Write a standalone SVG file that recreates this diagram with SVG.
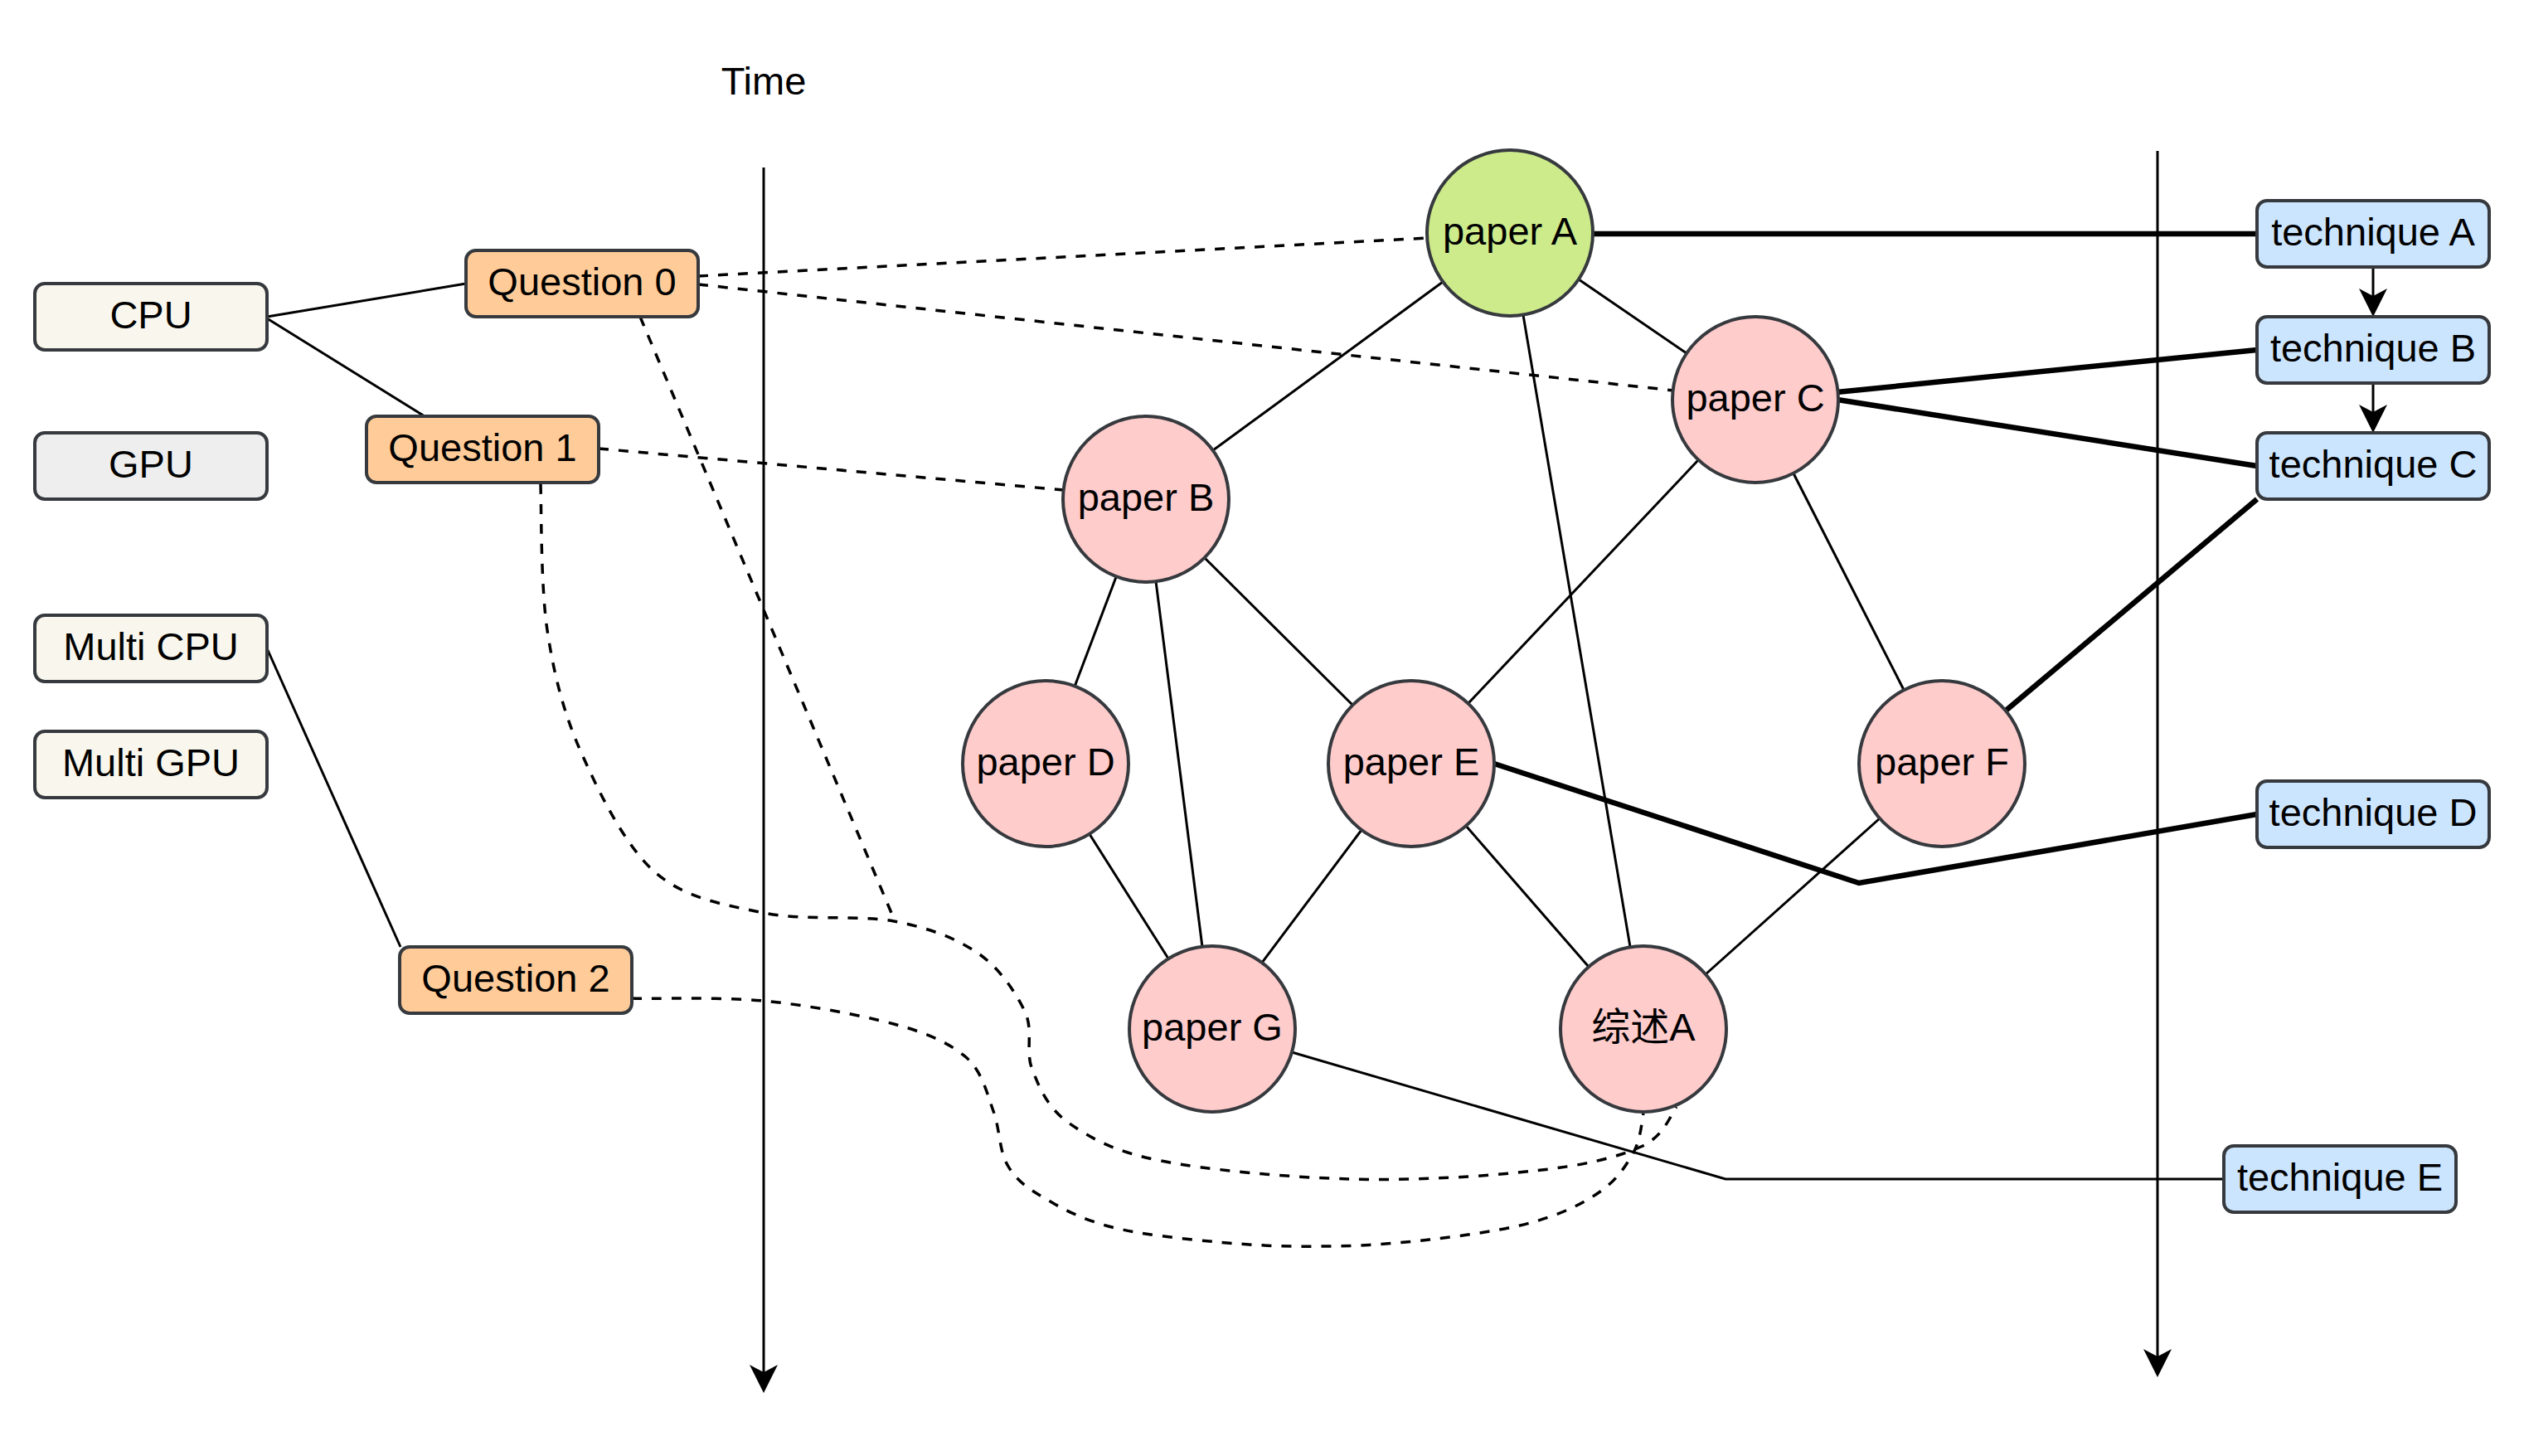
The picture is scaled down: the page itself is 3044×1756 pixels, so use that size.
<svg xmlns="http://www.w3.org/2000/svg" width="3044" height="1756" viewBox="0 0 3044 1756">
<style>
  text { font-family: "Liberation Sans", Arial, "Noto Sans CJK SC", sans-serif; font-size: 47px; fill: #000; text-anchor: middle; }
  .box { stroke: #36393d; stroke-width: 4; }
  .hw { fill: #f9f7ed; }
  .gpu { fill: #eeeeee; }
  .q { fill: #ffcc99; }
  .tech { fill: #cce5ff; }
  .paper { fill: #ffcccc; stroke: #36393d; stroke-width: 4; }
  .paperA { fill: #cdeb8b; stroke: #36393d; stroke-width: 4; }
  .thin { fill: none; stroke: #000; stroke-width: 3; }
  .thick { fill: none; stroke: #000; stroke-width: 6.5; stroke-linejoin: miter; }
  .dash { fill: none; stroke: #000; stroke-width: 3.5; stroke-dasharray: 12 12; }
  .axis { fill: none; stroke: #000; stroke-width: 3; marker-end: url(#arrow); }
</style>
<defs>
  <marker id="arrow" markerUnits="userSpaceOnUse" markerWidth="34" markerHeight="34" viewBox="0 0 34 34" refX="26" refY="17" orient="auto">
    <path d="M34,17 L0,0 L9,17 L0,34 Z" fill="#000"/>
  </marker>
</defs>
<rect width="3044" height="1756" fill="#fff"/>

<g id="connectors">
  <!-- time axes -->
  <path class="axis" d="M921,202 L921,1672"/>
  <path class="axis" d="M2602,182 L2602,1653"/>
  <!-- hardware to questions -->
  <path class="thin" d="M322,382 L562,342"/>
  <path class="thin" d="M322,384 L512,502"/>
  <path class="thin" d="M322,782 L483,1142"/>
  <!-- questions to papers (dashed) -->
  <path class="dash" d="M842,333 L1722,287"/>
  <path class="dash" d="M842,343 L2019,471"/>
  <path class="dash" d="M722,541 L1283,591"/>
  <path class="dash" d="M772,382 L1078,1108"/>
  <path class="dash" d="M652,584 C653,613 652,706 660,760 C668,814 680,861 702,910 C724,959 754,1020 790,1052 C827,1084 873,1091 921,1101 C969,1111 1035,1103 1078,1111 C1121,1119 1154,1132 1180,1150 C1206,1168 1225,1197 1236,1220 C1247,1243 1236,1268 1245,1290 C1254,1313 1264,1337 1290,1355 C1316,1373 1344,1389 1400,1400 C1456,1411 1553,1420 1628,1422 C1703,1424 1792,1419 1850,1412 C1909,1406 1950,1396 1979,1383 C2008,1370 2015,1343 2022,1335"/>
  <path class="dash" d="M762,1204 C788,1205 867,1202 920,1207 C973,1212 1037,1224 1078,1235 C1119,1246 1145,1258 1165,1275 C1185,1293 1190,1318 1198,1340 C1206,1362 1205,1388 1215,1405 C1225,1423 1239,1433 1260,1445 C1281,1458 1306,1471 1341,1480 C1376,1489 1427,1494 1469,1498 C1512,1502 1554,1504 1596,1503 C1639,1503 1681,1500 1724,1495 C1767,1490 1818,1483 1852,1473 C1886,1463 1910,1451 1930,1437 C1950,1423 1961,1406 1970,1390 C1979,1374 1980,1351 1982,1343"/>
  <!-- paper links -->
  <path class="thin" d="M1740,340 L1463,543"/>
  <path class="thin" d="M1904,337 L2034,426"/>
  <path class="thin" d="M1837,380 L1966,1142"/>
  <path class="thin" d="M1346,696 L1296,828"/>
  <path class="thin" d="M1394,701 L1450,1142"/>
  <path class="thin" d="M1453,673 L1631,850"/>
  <path class="thin" d="M2048,555 L1771,848"/>
  <path class="thin" d="M2163,571 L2296,832"/>
  <path class="thin" d="M1314,1006 L1409,1156"/>
  <path class="thin" d="M1642,1001 L1522,1161"/>
  <path class="thin" d="M1768,996 L1916,1166"/>
  <path class="thin" d="M2057,1175 L2267,987"/>
  <!-- papers to techniques -->
  <path class="thick" d="M1921,282 L2722,282"/>
  <path class="thick" d="M2215,473 L2722,422"/>
  <path class="thick" d="M2216,482 L2722,562"/>
  <path class="thick" d="M2419,857 L2722,602"/>
  <path class="thick" d="M1802,921 L2242,1065 L2722,982"/>
  <path class="thin" d="M1558,1269 L2081,1422 L2682,1422"/>
  <!-- technique chain -->
  <path class="axis" d="M2862,322 L2862,374"/>
  <path class="axis" d="M2862,462 L2862,514"/>
</g>

<g id="time-label"><text x="921" y="114">Time</text></g>

<g id="cpu"><rect class="box hw" x="42" y="342" width="280" height="80" rx="12"/><text x="182" y="396">CPU</text></g>
<g id="gpu"><rect class="box gpu" x="42" y="522" width="280" height="80" rx="12"/><text x="182" y="576">GPU</text></g>
<g id="multi-cpu"><rect class="box hw" x="42" y="742" width="280" height="80" rx="12"/><text x="182" y="796">Multi CPU</text></g>
<g id="multi-gpu"><rect class="box hw" x="42" y="882" width="280" height="80" rx="12"/><text x="182" y="936">Multi GPU</text></g>

<g id="question-0"><rect class="box q" x="562" y="302" width="280" height="80" rx="12"/><text x="702" y="356">Question 0</text></g>
<g id="question-1"><rect class="box q" x="442" y="502" width="280" height="80" rx="12"/><text x="582" y="556">Question 1</text></g>
<g id="question-2"><rect class="box q" x="482" y="1142" width="280" height="80" rx="12"/><text x="622" y="1196">Question 2</text></g>

<g id="paper-a"><circle class="paperA" cx="1821" cy="281" r="100"/><text x="1821" y="295">paper A</text></g>
<g id="paper-b"><circle class="paper" cx="1382" cy="602" r="100"/><text x="1382" y="616">paper B</text></g>
<g id="paper-c"><circle class="paper" cx="2117" cy="482" r="100"/><text x="2117" y="496">paper C</text></g>
<g id="paper-d"><circle class="paper" cx="1261" cy="921" r="100"/><text x="1261" y="935">paper D</text></g>
<g id="paper-e"><circle class="paper" cx="1702" cy="921" r="100"/><text x="1702" y="935">paper E</text></g>
<g id="paper-f"><circle class="paper" cx="2342" cy="921" r="100"/><text x="2342" y="935">paper F</text></g>
<g id="paper-g"><circle class="paper" cx="1462" cy="1241" r="100"/><text x="1462" y="1255">paper G</text></g>
<g id="review-a"><circle class="paper" cx="1982" cy="1241" r="100"/><text x="1982" y="1255">综述A</text></g>

<g id="technique-a"><rect class="box tech" x="2722" y="242" width="280" height="80" rx="12"/><text x="2862" y="296">technique A</text></g>
<g id="technique-b"><rect class="box tech" x="2722" y="382" width="280" height="80" rx="12"/><text x="2862" y="436">technique B</text></g>
<g id="technique-c"><rect class="box tech" x="2722" y="522" width="280" height="80" rx="12"/><text x="2862" y="576">technique C</text></g>
<g id="technique-d"><rect class="box tech" x="2722" y="942" width="280" height="80" rx="12"/><text x="2862" y="996">technique D</text></g>
<g id="technique-e"><rect class="box tech" x="2682" y="1382" width="280" height="80" rx="12"/><text x="2822" y="1436">technique E</text></g>
</svg>
